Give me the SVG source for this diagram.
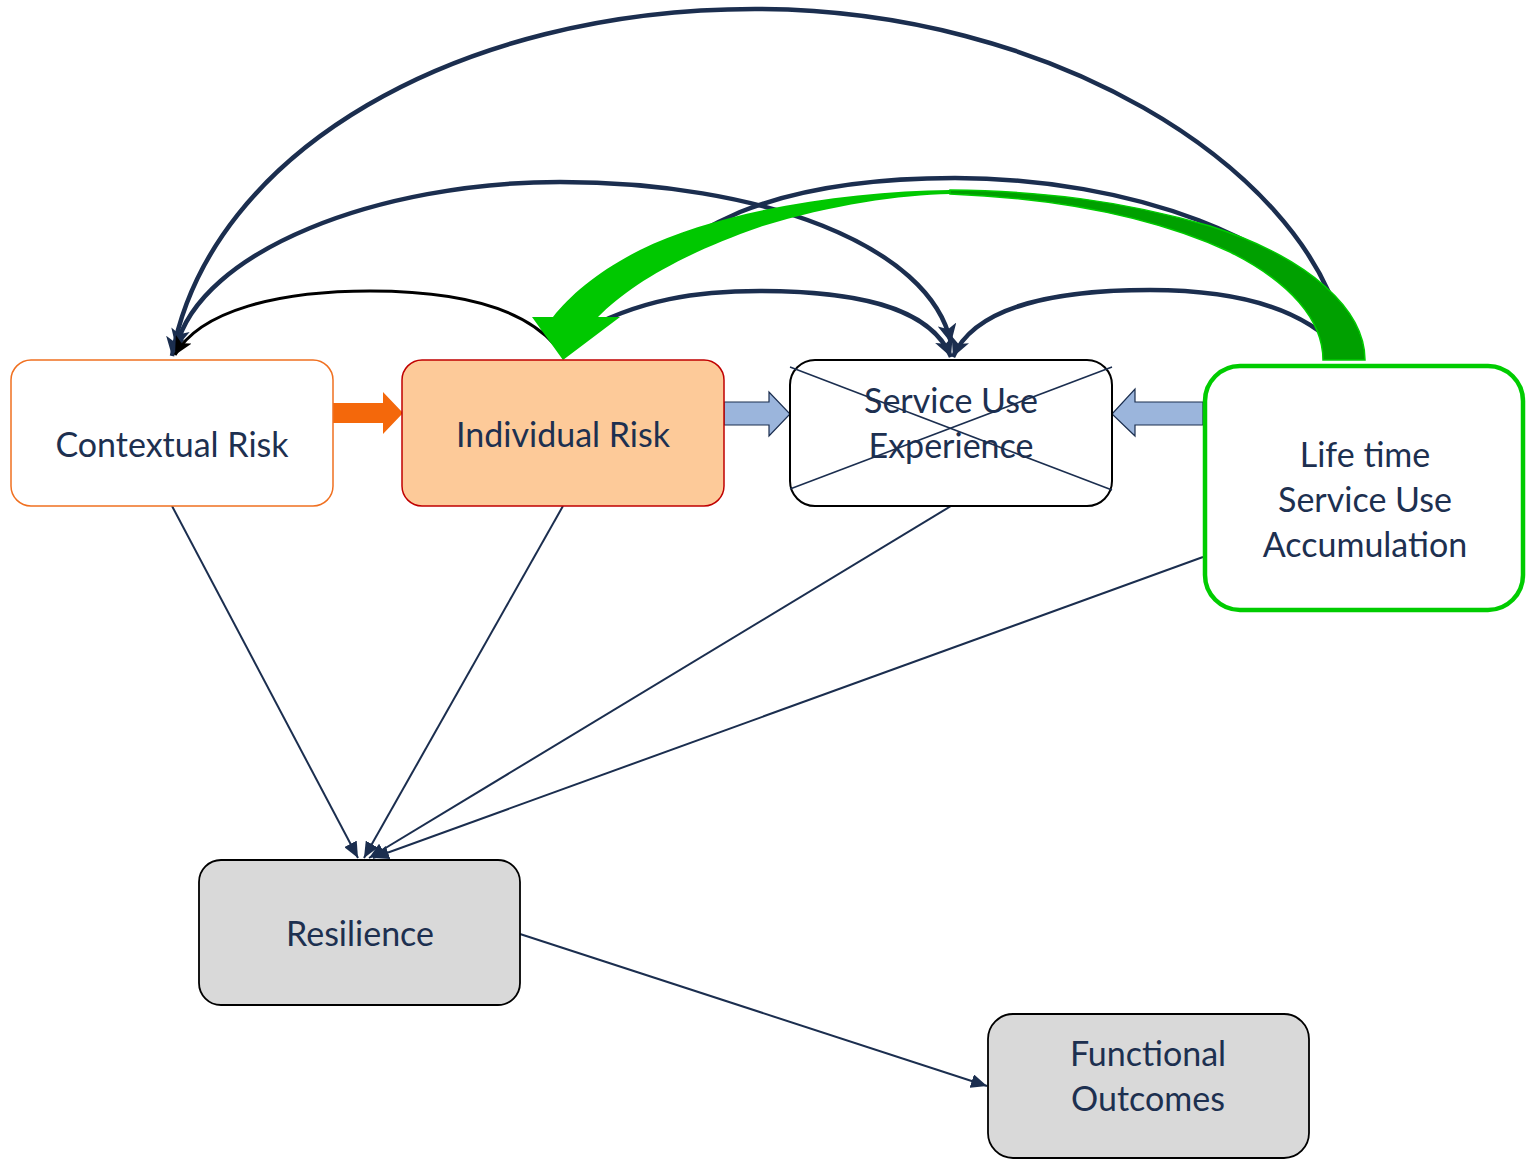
<svg xmlns="http://www.w3.org/2000/svg" width="1527" height="1160" viewBox="0 0 1527 1160">
<style>
.lbl{font-family:Lato,"Open Sans",sans-serif;font-size:34px;fill:#1d3050;text-anchor:middle}
.curve{fill:none;stroke:#1b2e4f;stroke-width:4.5}
.thin{fill:none;stroke:#1b2e4f;stroke-width:2}
</style>
<defs>
<marker id="ah" viewBox="0 0 10 10" refX="10" refY="5" markerWidth="4.2" markerHeight="4.2" orient="auto" markerUnits="strokeWidth"><path d="M0,0 L10,5 L0,10 L2.5,5 z" fill="#1b2e4f"/></marker>
<marker id="ahs" viewBox="0 0 10 10" refX="10" refY="5" markerWidth="4.2" markerHeight="4.2" orient="auto-start-reverse" markerUnits="strokeWidth"><path d="M0,0 L10,5 L0,10 L2.5,5 z" fill="#1b2e4f"/></marker>
<marker id="ahb" viewBox="0 0 10 10" refX="10" refY="5" markerWidth="6" markerHeight="6" orient="auto" markerUnits="strokeWidth"><path d="M0,0 L10,5 L0,10 L2.5,5 z" fill="#000"/></marker>
<marker id="aht" viewBox="0 0 16 14" refX="16" refY="7" markerWidth="8" markerHeight="7" orient="auto" markerUnits="strokeWidth"><path d="M0,0 L16,7 L0,14 z" fill="#1b2e4f"/></marker>
</defs>
<rect width="1527" height="1160" fill="#fff"/>

<g id="connectors">
<!-- straight lines to Resilience -->
<line class="thin" x1="172" y1="506" x2="358" y2="858" marker-end="url(#aht)"/>
<line class="thin" x1="563" y1="506" x2="364" y2="858" marker-end="url(#aht)"/>
<line class="thin" x1="951" y1="506" x2="369" y2="858" marker-end="url(#aht)"/>
<line class="thin" x1="1203" y1="557" x2="373" y2="858" marker-end="url(#aht)"/>
<line class="thin" x1="520" y1="934" x2="987" y2="1086" marker-end="url(#aht)"/>
<!-- curved arrows -->
<path class="curve" d="M1342,330 C1300,165 1050,9 755,9 C460,9 210,150 172,356" marker-end="url(#ah)"/>
<path class="curve" d="M176,348 C200,250 380,182 560,182 C760,182 930,245 951,343" marker-start="url(#ahs)" marker-end="url(#ah)"/>
<path class="curve" d="M1345,330 C1300,240 1130,178 955,178 C860,178 790,192 740,212 C680,238 620,280 580,330"/>
<path class="curve" d="M1340,350 C1300,305 1230,290 1150,290 C1060,290 975,305 953,357" marker-end="url(#ah)"/>
<path class="curve" d="M575,335 C640,298 700,291 760,291 C850,291 930,305 951,357" marker-end="url(#ah)"/>
<path d="M555,345 C520,305 450,291 370,291 C280,291 200,310 175,355" fill="none" stroke="#000" stroke-width="3" marker-end="url(#ahb)"/>
<!-- green curved block arrow -->
<path d="M1365,360 C1365,310 1310,258 1210,226 C1120,200 1040,191 950,190 L950,194 C1050,198 1150,215 1230,252 C1290,282 1323,320 1323,360 Z" fill="#00a000" stroke="#00cc00" stroke-width="1.5"/>
<path d="M950,190 C850,191 720,210 640,250 C600,270 570,295 553,317 L532,317 L563,360 L620,317 L598,317 C630,285 680,255 760,227 C830,205 900,195 950,194 Z" fill="#00c800"/>
<!-- block arrows -->
<path d="M333,403 L383,403 L383,392 L403,413 L383,434 L383,423 L333,423 Z" fill="#f4680b"/>
<path d="M724,402 L769,402 L769,392 L790,414 L769,436 L769,425 L724,425 Z" fill="#9bb5dc" stroke="#1b2e4f" stroke-width="1.2"/>
<path d="M1203,402 L1135,402 L1135,389 L1112,414 L1135,436 L1135,425 L1203,425 Z" fill="#9bb5dc" stroke="#1b2e4f" stroke-width="1.2"/>
</g>

<g id="contextual-risk">
<rect x="11" y="360" width="322" height="146" rx="20" fill="#fff" stroke="#f07020" stroke-width="1.5"/>
<text class="lbl" x="172" y="457">Contextual Risk</text>
</g>
<g id="individual-risk">
<rect x="402" y="360" width="322" height="146" rx="20" fill="#fdca99" stroke="#c00000" stroke-width="1.5"/>
<text class="lbl" x="563" y="447">Individual Risk</text>
</g>
<g id="service-use-experience">
<rect x="790" y="360" width="322" height="146" rx="25" fill="#fff" stroke="#000" stroke-width="2"/>
<text class="lbl" x="951" y="413">Service Use</text>
<text class="lbl" x="951" y="458">Experience</text>
<line x1="790" y1="367" x2="1112" y2="490" stroke="#1b2e4f" stroke-width="1.5"/>
<line x1="790" y1="489" x2="1112" y2="367" stroke="#1b2e4f" stroke-width="1.5"/>
</g>
<g id="lifetime-service-use">
<rect x="1205" y="366" width="318" height="244" rx="35" fill="#fff" stroke="#00cc00" stroke-width="4.5"/>
<text class="lbl" x="1365" y="467">Life time</text>
<text class="lbl" x="1365" y="512">Service Use</text>
<text class="lbl" x="1365" y="557">Accumulation</text>
</g>
<g id="resilience">
<rect x="199" y="860" width="321" height="145" rx="22" fill="#d9d9d9" stroke="#000" stroke-width="1.8"/>
<text class="lbl" x="360" y="946">Resilience</text>
</g>
<g id="functional-outcomes">
<rect x="988" y="1014" width="321" height="144" rx="25" fill="#d9d9d9" stroke="#000" stroke-width="1.8"/>
<text class="lbl" x="1148" y="1066">Functional</text>
<text class="lbl" x="1148" y="1111">Outcomes</text>
</g>
</svg>
